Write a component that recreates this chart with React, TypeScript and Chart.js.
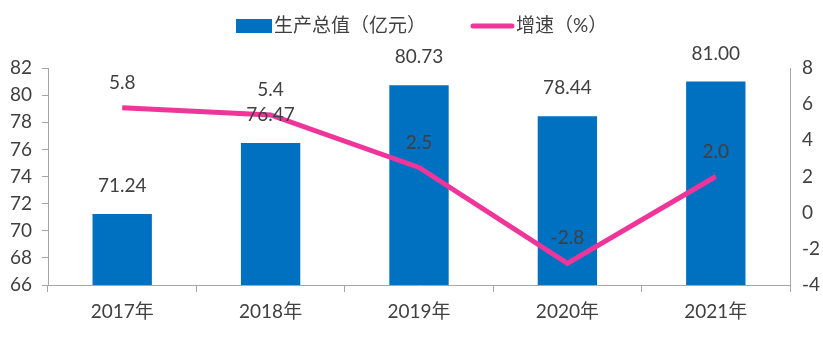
import React, { useEffect, useRef } from "react";
import { Chart, registerables } from "chart.js";
Chart.register(...registerables);

const categories = ["2017年", "2018年", "2019年", "2020年", "2021年"];
const outputValues = [71.24, 76.47, 80.73, 78.44, 81.0];
const growthValues = [5.8, 5.4, 2.5, -2.8, 2.0];
const leftTicks = [66, 82];
const rightTicks = [-4, 8];

const BAR = "#0070C0";
const LINE = "#F0359A";
const TXT = "#404040";
const FONT = "Lato, 'Noto Sans CJK SC', sans-serif";

const labelsPlugin = {
  id: "labelsPlugin",
  afterDatasetsDraw(chart: any) {
    const ctx = chart.ctx;
    ctx.save();
    ctx.font = `19px ${FONT}`;
    ctx.fillStyle = TXT;
    ctx.textAlign = "center";
    ctx.textBaseline = "middle";
    const barMeta = chart.getDatasetMeta(0);
    barMeta.data.forEach((el: any, i: number) => {
      ctx.fillText(outputValues[i].toFixed(2), el.x, el.y - 28);
    });
    const lineMeta = chart.getDatasetMeta(1);
    lineMeta.data.forEach((el: any, i: number) => {
      ctx.fillText(growthValues[i].toFixed(1), el.x, el.y - 25);
    });
    // legend
    ctx.textAlign = "left";
    ctx.fillStyle = BAR;
    ctx.fillRect(236, 19, 36, 14);
    ctx.fillStyle = TXT;
    ctx.fillText("生产总值（亿元）", 274, 26);
    ctx.strokeStyle = LINE;
    ctx.lineWidth = 5;
    ctx.lineCap = "round";
    ctx.beginPath();
    ctx.moveTo(473, 26);
    ctx.lineTo(512, 26);
    ctx.stroke();
    ctx.fillText("增速（%）", 516, 26);
    ctx.restore();
  },
};

export default function App() {
  const ref = useRef<HTMLCanvasElement>(null);
  useEffect(() => {
    document.body.style.margin = "0";
    const chart = new Chart(ref.current!, {
      type: "bar",
      data: {
        labels: categories,
        datasets: [
          {
            type: "bar",
            data: outputValues,
            backgroundColor: BAR,
            yAxisID: "y",
            barPercentage: 0.8,
            categoryPercentage: 0.5,
            order: 2,
          },
          {
            type: "line",
            data: growthValues,
            borderColor: LINE,
            borderWidth: 5,
            pointRadius: 0,
            tension: 0,
            yAxisID: "y1",
            order: 1,
          } as any,
        ],
      },
      options: {
        animation: false,
        responsive: false,
        layout: { padding: { top: 68, left: 0, right: 0, bottom: 0 } },
        plugins: { legend: { display: false }, tooltip: { enabled: false } },
        scales: {
          x: {
            offset: true,
            grid: { offset: true, drawOnChartArea: false, tickLength: 7, color: "#A6A6A6" },
            border: { color: "#A6A6A6" },
            ticks: { font: { size: 19, family: FONT }, color: TXT, padding: 8 },
            afterFit: (s: any) => { s.height = 57; },
          },
          y: {
            position: "left",
            min: leftTicks[0],
            max: leftTicks[1],
            ticks: { stepSize: 2, font: { size: 19, family: FONT }, color: TXT, padding: 10 },
            grid: { drawOnChartArea: false, tickLength: 6, color: "#A6A6A6" },
            border: { color: "#A6A6A6" },
            afterFit: (s: any) => { s.width = 48; },
          },
          y1: {
            position: "right",
            min: rightTicks[0],
            max: rightTicks[1],
            ticks: { stepSize: 2, font: { size: 19, family: FONT }, color: TXT, padding: 12 },
            grid: { drawOnChartArea: false, drawTicks: false, color: "#A6A6A6" },
            border: { color: "#A6A6A6" },
            afterFit: (s: any) => { s.width = 33; },
          },
        },
      },
      plugins: [labelsPlugin],
    });
    return () => chart.destroy();
  }, []);
  return (
    <div style={{ width: 823, height: 342 }}>
      <canvas ref={ref} width={823} height={342} />
    </div>
  );
}
